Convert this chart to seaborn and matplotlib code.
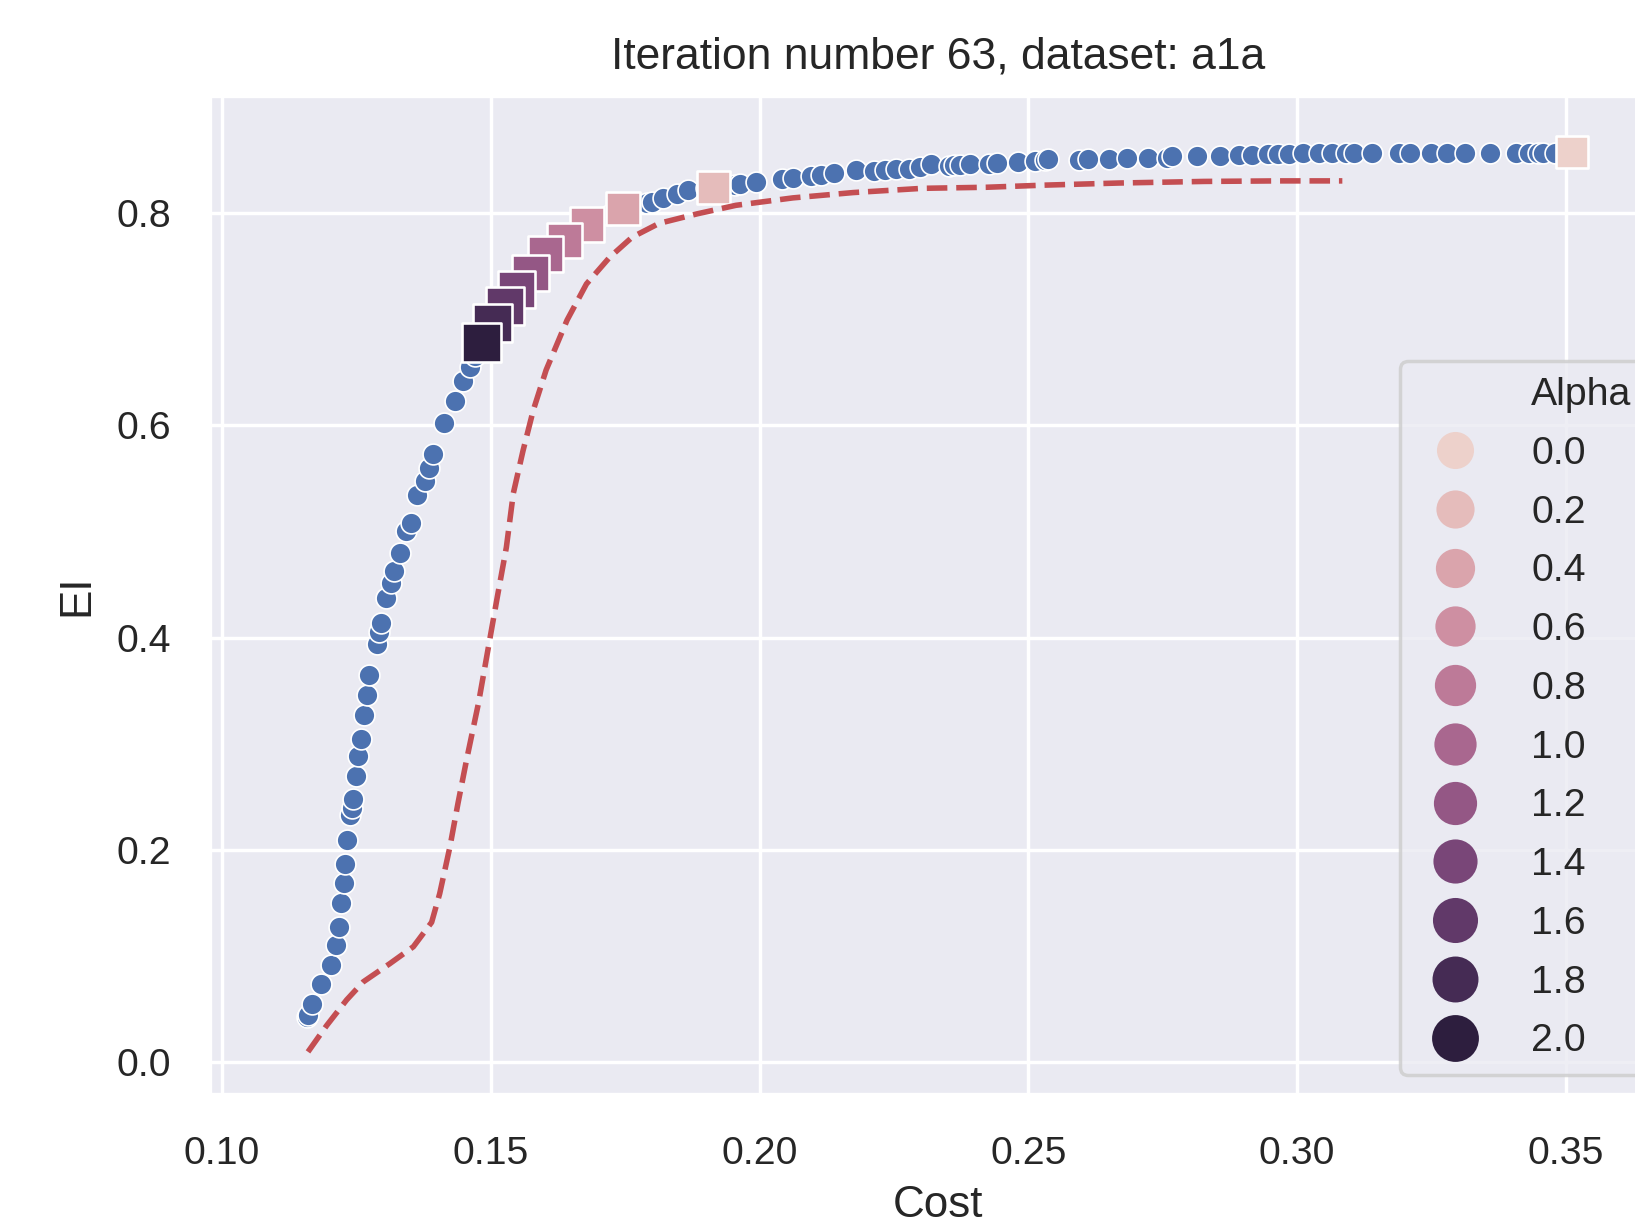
import numpy as np
import pandas as pd
import matplotlib.pyplot as plt
from matplotlib.lines import Line2D
import seaborn as sns

# Evaluated candidates (cost, EI)
cost_points = [0.1158, 0.1160, 0.1168, 0.1185, 0.1202, 0.1212, 0.1218, 0.1222, 0.1227, 0.1229,
               0.1233, 0.1238, 0.1241, 0.1244, 0.1249, 0.1253, 0.1258, 0.1264, 0.1269, 0.1273,
               0.1289, 0.1292, 0.1295, 0.1305, 0.1315, 0.1320, 0.1331, 0.1342, 0.1351, 0.1362,
               0.1377, 0.1385, 0.1393, 0.1413, 0.1434, 0.1449, 0.1461, 0.1470, 0.1478, 0.1500,
               0.1520, 0.1545, 0.1570, 0.1600, 0.1635, 0.1675, 0.1720, 0.1760, 0.1790, 0.1799,
               0.1820, 0.1846, 0.1867, 0.1900, 0.1935, 0.1954, 0.1963, 0.1994, 0.2041, 0.2062,
               0.2096, 0.2114, 0.2139, 0.2179, 0.2213, 0.2233, 0.2253, 0.2278, 0.2298, 0.2318,
               0.2352, 0.2362, 0.2373, 0.2392, 0.2427, 0.2442, 0.2481, 0.2512, 0.2531, 0.2536,
               0.2595, 0.2610, 0.2650, 0.2684, 0.2723, 0.2758, 0.2768, 0.2813, 0.2857, 0.2892,
               0.2916, 0.2946, 0.2965, 0.2985, 0.3011, 0.3040, 0.3065, 0.3090, 0.3105, 0.3140,
               0.3189, 0.3210, 0.3249, 0.3278, 0.3313, 0.3358, 0.3407, 0.3432, 0.3448, 0.3457,
               0.3480]
ei_points = [0.043, 0.045, 0.055, 0.074, 0.092, 0.111, 0.128, 0.150, 0.169, 0.187,
             0.209, 0.233, 0.240, 0.248, 0.270, 0.289, 0.305, 0.327, 0.346, 0.365,
             0.394, 0.405, 0.414, 0.437, 0.451, 0.463, 0.480, 0.500, 0.508, 0.534,
             0.547, 0.560, 0.573, 0.602, 0.623, 0.642, 0.655, 0.665, 0.672, 0.690,
             0.705, 0.722, 0.740, 0.757, 0.772, 0.787, 0.798, 0.806, 0.809, 0.810,
             0.814, 0.818, 0.821, 0.823, 0.825, 0.826, 0.827, 0.829, 0.832, 0.833,
             0.835, 0.836, 0.837, 0.840, 0.839, 0.840, 0.841, 0.841, 0.843, 0.846,
             0.844, 0.845, 0.845, 0.846, 0.846, 0.847, 0.848, 0.849, 0.850, 0.851,
             0.850, 0.851, 0.851, 0.852, 0.852, 0.852, 0.853, 0.853, 0.853, 0.854,
             0.854, 0.855, 0.855, 0.855, 0.856, 0.856, 0.856, 0.856, 0.856, 0.856,
             0.856, 0.856, 0.856, 0.856, 0.856, 0.856, 0.856, 0.856, 0.856, 0.856,
             0.856]

# Selected points for each alpha
alpha_values = [0.0, 0.2, 0.4, 0.6, 0.8, 1.0, 1.2, 1.4, 1.6, 1.8, 2.0]
alpha_cost = [0.3512, 0.1914, 0.1746, 0.1679, 0.1638, 0.1602, 0.1574, 0.1548, 0.1526, 0.1503, 0.1483]
alpha_ei = [0.857, 0.824, 0.804, 0.789, 0.774, 0.761, 0.743, 0.728, 0.712, 0.696, 0.678]

# Dashed frontier
front_cost = [0.1160, 0.1195, 0.1232, 0.1263, 0.1312, 0.1356, 0.1390, 0.1405, 0.1424, 0.1439,
              0.1455, 0.1477, 0.1511, 0.1529, 0.1542, 0.1560, 0.1579, 0.1603, 0.1642,
              0.1678, 0.1721, 0.1763, 0.1813, 0.1884, 0.1956, 0.2062, 0.2174, 0.2303, 0.2422,
              0.2530, 0.2669, 0.2827, 0.2966, 0.3084]
front_ei = [0.010, 0.035, 0.059, 0.076, 0.093, 0.109, 0.132, 0.159, 0.203, 0.244,
            0.285, 0.338, 0.435, 0.485, 0.536, 0.576, 0.614, 0.652, 0.699,
            0.733, 0.758, 0.777, 0.790, 0.799, 0.807, 0.814, 0.819, 0.823, 0.824,
            0.826, 0.828, 0.8295, 0.830, 0.830]

df_points = pd.DataFrame({'Cost': cost_points, 'EI': ei_points})
df_alpha = pd.DataFrame({'Cost': alpha_cost, 'EI': alpha_ei, 'Alpha': alpha_values})
df_front = pd.DataFrame({'Cost': front_cost, 'EI': front_ei})

sns.set_theme(style='darkgrid')
plt.rcParams['font.family'] = ['Liberation Sans', 'DejaVu Sans']

fig = plt.figure(figsize=(6.54, 4.9), dpi=250)
ax = fig.add_axes([0.1282, 0.1063, 0.8914, 0.8154])

cmap = sns.cubehelix_palette(as_cmap=True)

sns.lineplot(data=df_front, x='Cost', y='EI', color='#c44e52', linestyle='--', linewidth=1.6,
             sort=False, ax=ax)
sns.scatterplot(data=df_points, x='Cost', y='EI', color='#4c72b0', ax=ax)
sns.scatterplot(data=df_alpha, x='Cost', y='EI', hue='Alpha', size='Alpha', sizes=(85, 126),
                hue_norm=(0, 2), size_norm=(0, 2), palette=cmap, marker='s', legend=False, ax=ax)

ax.set_xlim(0.0977, 0.3688)
ax.set_ylim(-0.0304, 0.910)
ax.set_title('Iteration number 63, dataset: a1a', fontsize=12.8, pad=8)
ax.set_xlabel('Cost', fontsize=12.7, labelpad=3.5)
ax.set_ylabel('EI', fontsize=12.7, labelpad=5.5)
ax.tick_params(axis='x', labelsize=11.3, pad=6)
ax.tick_params(axis='y', labelsize=11.3, pad=5)

# old-style seaborn legend: title as first row, circles for markers
handles = [Line2D([], [], linestyle='', marker='o', visible=False)]
labels = ['Alpha']
for a in alpha_values:
    ms = np.sqrt(114 + (182 - 114) * a / 2)
    handles.append(Line2D([], [], linestyle='', marker='o', markersize=ms,
                          markerfacecolor=cmap(a / 2), markeredgewidth=0))
    labels.append(f'{a:.1f}')
ax.legend(handles, labels, loc='lower right', fontsize=11.3, labelspacing=0.58,
          handletextpad=0.95, handlelength=2.0)

fig.savefig('out.png', dpi=250)
